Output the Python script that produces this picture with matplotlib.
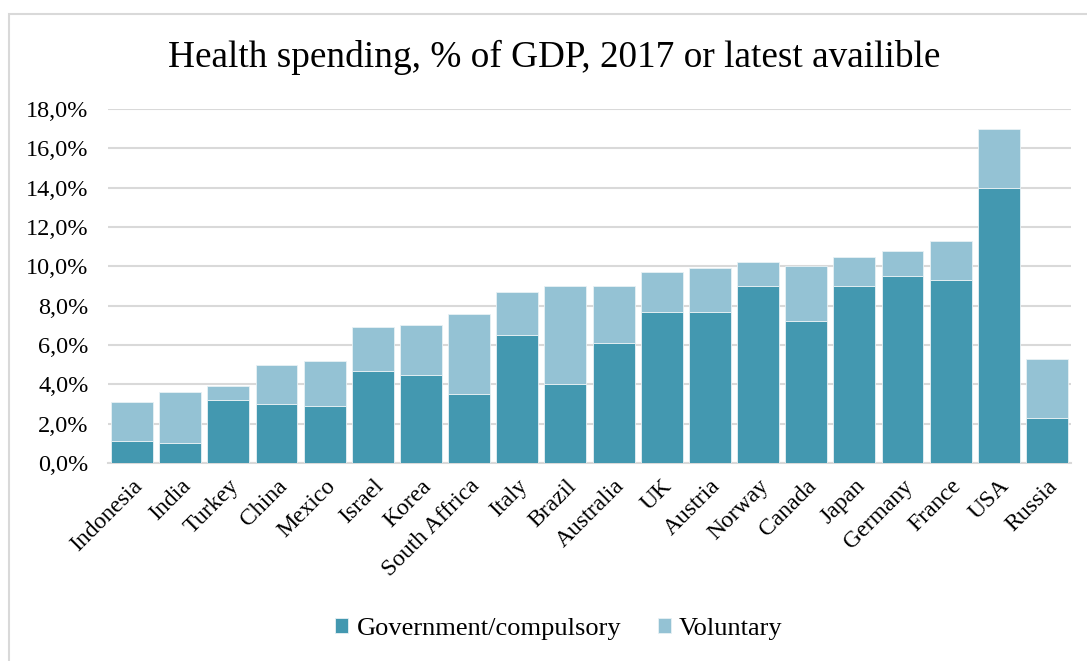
import numpy as np
import matplotlib.pyplot as plt
from matplotlib.patches import Rectangle
from matplotlib.ticker import FuncFormatter

# Data (% of GDP)
countries = ["Indonesia", "India", "Turkey", "China", "Mexico", "Israel", "Korea",
             "South Affrica", "Italy", "Brazil", "Australia", "UK", "Austria", "Norway",
             "Canada", "Japan", "Germany", "France", "USA", "Russia"]
government = [1.1, 1.0, 3.2, 3.0, 2.9, 4.7, 4.5, 3.5, 6.5, 4.0, 6.1, 7.7, 7.7, 9.0,
              7.2, 9.0, 9.5, 9.3, 14.0, 2.3]
total = [3.1, 3.6, 3.9, 5.0, 5.2, 6.9, 7.0, 7.6, 8.7, 9.0, 9.0, 9.7, 9.9, 10.2,
         10.0, 10.5, 10.8, 11.3, 17.0, 5.3]
voluntary = [t - g for t, g in zip(total, government)]

plt.rcParams['font.family'] = ['Liberation Serif', 'DejaVu Serif']

fig = plt.figure(figsize=(10.87, 6.61), dpi=100)
ax = fig.add_axes([108 / 1087, 1 - 463 / 661, 963 / 1087, 354 / 661])

# outer light frame
fig.patches.append(Rectangle((8.5 / 1087, -0.1), 1.2, 1 - 13.5 / 661 + 0.1,
                             transform=fig.transFigure, fill=False,
                             edgecolor='#d9d9d9', linewidth=1.5, zorder=0))

x = np.arange(len(countries))
dark = '#4398b0'
light = '#94c2d4'
ax.bar(x, government, width=0.87, color=dark, edgecolor='#e8f1f4', linewidth=0.6,
       label='Government/compulsory', zorder=3)
ax.bar(x, voluntary, width=0.87, bottom=government, color=light, edgecolor='#e8f1f4',
       linewidth=0.6, label='Voluntary', zorder=3)

ax.set_xlim(-0.5, len(countries) - 0.5)
ax.set_ylim(0, 18)
ax.set_yticks(np.arange(0, 18.1, 2))
ax.yaxis.set_major_formatter(FuncFormatter(lambda v, p: f"{v:.1f}%".replace('.', ',')))
ax.grid(axis='y', color='#d9d9d9', linewidth=1.5, zorder=0)
ax.set_axisbelow(True)
for s in ['top', 'right', 'left']:
    ax.spines[s].set_visible(False)
ax.spines['bottom'].set_color('#d9d9d9')
ax.spines['bottom'].set_linewidth(1.5)
ax.tick_params(axis='y', length=0, labelsize=17.5, pad=14)
ax.set_xticks(x)
ax.set_xticklabels(countries, rotation=45, ha='right', rotation_mode='anchor')
ax.tick_params(axis='x', length=0, labelsize=17, pad=9)

fig.text(554 / 1087, 1 - 57 / 661, "Health spending, % of GDP, 2017 or latest availible",
         ha='center', va='center', fontsize=26.8)

fig.legend(loc='center', bbox_to_anchor=(559 / 1087, 1 - 629 / 661), ncol=2,
           frameon=False, fontsize=19, handlelength=0.5, handleheight=0.5,
           handletextpad=0.3, columnspacing=1.4)

fig.savefig('out.png', dpi=100)
